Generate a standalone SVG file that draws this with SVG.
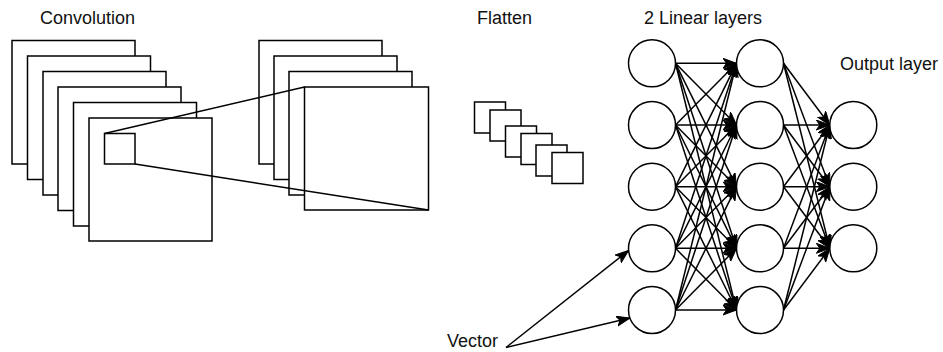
<svg xmlns="http://www.w3.org/2000/svg" width="943" height="352" viewBox="0 0 943 352">
  <style>
    .box { fill: #fff; stroke: #000; stroke-width: 1.5; }
    .node { fill: #fff; stroke: #000; stroke-width: 1.5; }
    .edge { fill: none; stroke: #000; stroke-width: 1.5; marker-end: url(#arrow); }
    .plain { fill: none; stroke: #000; stroke-width: 1.5; }
    .label { font-family: "Liberation Sans", Arial, sans-serif; font-size: 18px; fill: #111; }
  </style>
  <defs>
    <marker id="arrow" markerUnits="userSpaceOnUse" markerWidth="15" markerHeight="12" refX="13.5" refY="5" orient="auto">
      <path d="M0,0 L13.5,5 L0,10 L3.5,5 Z" fill="#000" stroke="#000" stroke-width="1"/>
    </marker>
  </defs>

  <rect width="943" height="352" fill="#fff"/>

  <!-- titles -->
  <text class="label" x="40" y="23.5">Convolution</text>
  <text class="label" x="477" y="24">Flatten</text>
  <text class="label" x="644" y="24">2 Linear layers</text>
  <text class="label" x="840" y="70">Output layer</text>
  <text class="label" x="447" y="347">Vector</text>

  <!-- input feature maps -->
  <g id="input-maps">
    <rect class="box" x="12" y="40.5" width="123" height="123.5"/>
    <rect class="box" x="27.5" y="56" width="123" height="123.5"/>
    <rect class="box" x="43" y="71.5" width="123" height="123.5"/>
    <rect class="box" x="58" y="87" width="123" height="123.5"/>
    <rect class="box" x="73.5" y="102.5" width="123" height="123.5"/>
    <rect class="box" x="89" y="118" width="123" height="123"/>
    <rect class="box" x="104.5" y="133.5" width="30.5" height="30.5"/>
  </g>

  <!-- convolved feature maps -->
  <g id="output-maps">
    <rect class="box" x="259" y="40.5" width="123" height="123.5"/>
    <rect class="box" x="274" y="56" width="123" height="123.5"/>
    <rect class="box" x="289" y="71.5" width="123" height="123.5"/>
    <rect class="box" x="304.5" y="87" width="124" height="123"/>
  </g>

  <!-- receptive field projection -->
  <g id="projection">
    <line class="plain" x1="104.5" y1="133.5" x2="304.5" y2="87"/>
    <line class="plain" x1="135" y1="164" x2="428.5" y2="210"/>
  </g>

  <!-- flattened pieces -->
  <g id="flatten">
    <rect class="box" x="474.5" y="102" width="31" height="31"/>
    <rect class="box" x="490" y="110" width="31" height="31"/>
    <rect class="box" x="505.5" y="126" width="31" height="31"/>
    <rect class="box" x="521" y="133.5" width="31" height="31"/>
    <rect class="box" x="536" y="145" width="31" height="31"/>
    <rect class="box" x="552" y="152.5" width="31" height="31"/>
  </g>

  <!-- connectors -->
  <g id="connectors">
    <!-- layer 1 to layer 2 -->
    <path class="edge" d="M675.5,63.3 L736.5,63.3"/>
    <path class="edge" d="M675.5,63.3 L736.5,125"/>
    <path class="edge" d="M675.5,63.3 L736.5,186.7"/>
    <path class="edge" d="M675.5,63.3 L736.5,248.3"/>
    <path class="edge" d="M675.5,63.3 L736.5,310"/>
    <path class="edge" d="M675.5,125 L736.5,63.3"/>
    <path class="edge" d="M675.5,125 L736.5,125"/>
    <path class="edge" d="M675.5,125 L736.5,186.7"/>
    <path class="edge" d="M675.5,125 L736.5,248.3"/>
    <path class="edge" d="M675.5,125 L736.5,310"/>
    <path class="edge" d="M675.5,186.7 L736.5,63.3"/>
    <path class="edge" d="M675.5,186.7 L736.5,125"/>
    <path class="edge" d="M675.5,186.7 L736.5,186.7"/>
    <path class="edge" d="M675.5,186.7 L736.5,248.3"/>
    <path class="edge" d="M675.5,186.7 L736.5,310"/>
    <path class="edge" d="M675.5,248.3 L736.5,63.3"/>
    <path class="edge" d="M675.5,248.3 L736.5,125"/>
    <path class="edge" d="M675.5,248.3 L736.5,186.7"/>
    <path class="edge" d="M675.5,248.3 L736.5,248.3"/>
    <path class="edge" d="M675.5,248.3 L736.5,310"/>
    <path class="edge" d="M675.5,310 L736.5,63.3"/>
    <path class="edge" d="M675.5,310 L736.5,125"/>
    <path class="edge" d="M675.5,310 L736.5,186.7"/>
    <path class="edge" d="M675.5,310 L736.5,248.3"/>
    <path class="edge" d="M675.5,310 L736.5,310"/>
    <!-- layer 2 to output -->
    <path class="edge" d="M783.5,63.3 L829.8,125"/>
    <path class="edge" d="M783.5,63.3 L829.8,186.7"/>
    <path class="edge" d="M783.5,63.3 L829.8,248.3"/>
    <path class="edge" d="M783.5,125 L829.8,125"/>
    <path class="edge" d="M783.5,125 L829.8,186.7"/>
    <path class="edge" d="M783.5,125 L829.8,248.3"/>
    <path class="edge" d="M783.5,186.7 L829.8,125"/>
    <path class="edge" d="M783.5,186.7 L829.8,186.7"/>
    <path class="edge" d="M783.5,186.7 L829.8,248.3"/>
    <path class="edge" d="M783.5,248.3 L829.8,125"/>
    <path class="edge" d="M783.5,248.3 L829.8,186.7"/>
    <path class="edge" d="M783.5,248.3 L829.8,248.3"/>
    <path class="edge" d="M783.5,310 L829.8,125"/>
    <path class="edge" d="M783.5,310 L829.8,186.7"/>
    <path class="edge" d="M783.5,310 L829.8,248.3"/>
    <!-- vector inputs -->
    <path class="edge" d="M506,347.5 L628.6,250.5"/>
    <path class="edge" d="M506,347.5 L629.9,318"/>
  </g>

  <!-- first linear layer -->
  <g id="layer1">
    <circle class="node" cx="652" cy="63.3" r="23.5"/>
    <circle class="node" cx="652" cy="125" r="23.5"/>
    <circle class="node" cx="652" cy="186.7" r="23.5"/>
    <circle class="node" cx="652" cy="248.3" r="23.5"/>
    <circle class="node" cx="652" cy="310" r="23.5"/>
  </g>

  <!-- second linear layer -->
  <g id="layer2">
    <circle class="node" cx="760" cy="63.3" r="23.5"/>
    <circle class="node" cx="760" cy="125" r="23.5"/>
    <circle class="node" cx="760" cy="186.7" r="23.5"/>
    <circle class="node" cx="760" cy="248.3" r="23.5"/>
    <circle class="node" cx="760" cy="310" r="23.5"/>
  </g>

  <!-- output layer -->
  <g id="output-layer">
    <circle class="node" cx="853.3" cy="125" r="23.5"/>
    <circle class="node" cx="853.3" cy="186.7" r="23.5"/>
    <circle class="node" cx="853.3" cy="248.3" r="23.5"/>
  </g>
</svg>
